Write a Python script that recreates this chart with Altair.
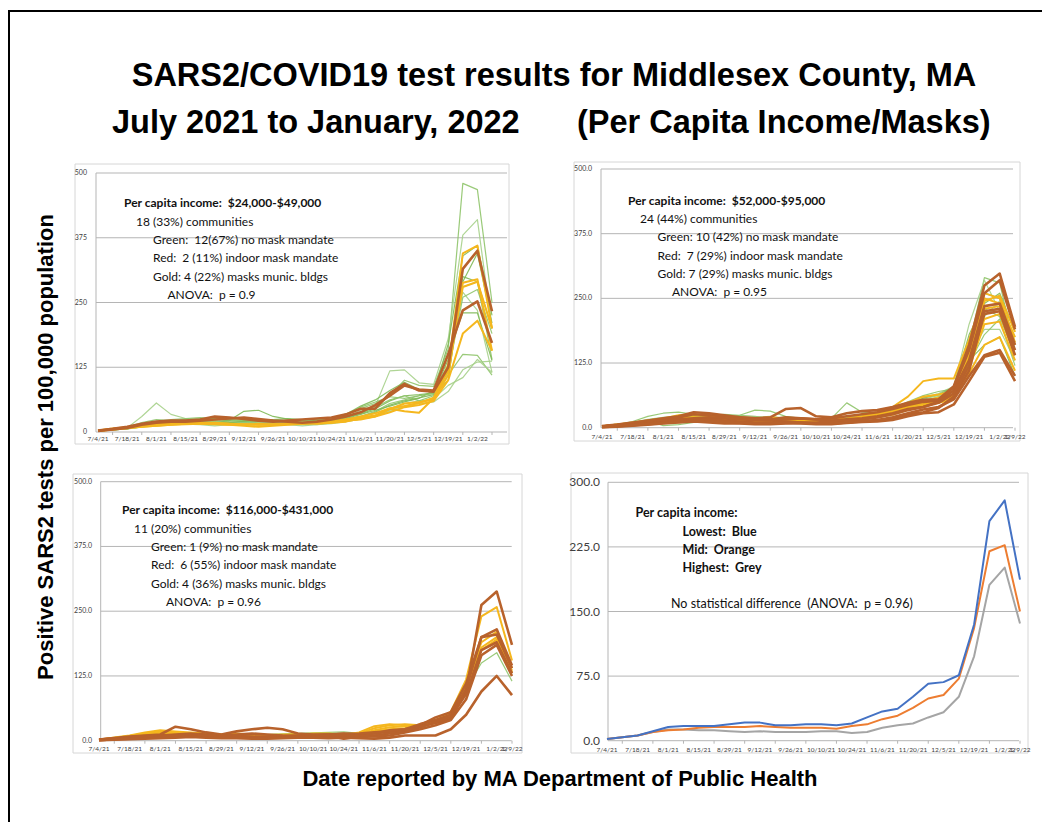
import altair as alt
import pandas as pd

# ---------------- data ----------------
dates = ["7/4/21", "7/11/21", "7/18/21", "7/25/21", "8/1/21", "8/8/21", "8/15/21", "8/22/21",
         "8/29/21", "9/5/21", "9/12/21", "9/19/21", "9/26/21", "10/3/21", "10/10/21", "10/17/21",
         "10/24/21", "10/31/21", "11/6/21", "11/13/21", "11/20/21", "11/27/21", "12/5/21",
         "12/12/21", "12/19/21", "12/26/21", "1/2/22", "1/9/22"]

# Panel 1: $24,000-$49,000
p1_green = [
    [2,5,9,18,24,22,24,26,25,24,22,24,20,22,24,22,26,35,45,55,70,100,90,88,160,480,468,250],
    [3,6,8,30,56,34,26,24,22,20,18,20,22,18,20,22,24,30,42,50,118,120,95,92,180,380,410,200],
    [2,4,7,14,18,20,22,20,18,22,40,42,30,25,22,20,20,28,35,45,60,70,72,75,140,290,345,210],
    [3,5,8,12,16,18,20,22,20,18,16,18,16,18,20,18,22,25,30,40,55,62,70,76,130,280,290,140],
    [2,5,8,14,20,22,18,16,14,16,18,20,22,20,18,16,18,22,28,32,45,55,60,62,120,270,235,115],
    [3,6,7,12,15,18,20,22,24,22,20,18,16,15,14,16,20,26,34,42,50,58,65,80,150,230,230,138],
    [2,4,6,10,14,16,18,20,18,16,14,16,14,16,18,20,22,28,36,48,62,70,60,70,110,150,148,110],
    [3,5,7,10,12,14,16,18,16,15,14,15,16,14,12,14,18,22,26,30,42,50,55,58,78,120,135,137],
    [2,4,6,12,16,18,20,18,16,18,20,22,24,26,24,22,20,24,30,38,52,60,66,72,100,300,290,200],
    [3,5,8,16,20,24,26,28,26,24,22,20,18,20,22,24,26,32,48,58,68,65,70,74,115,260,275,190],
    [2,4,6,10,14,16,15,14,12,14,16,18,20,18,16,14,16,20,25,30,40,48,58,64,90,105,140,115],
    [3,6,9,15,18,20,22,24,26,28,24,22,20,22,24,26,28,34,50,62,80,96,82,76,170,340,360,225],
]
p1_red = [
    [3,6,10,16,20,22,22,24,30,28,25,22,20,22,24,26,28,34,45,45,75,93,80,78,125,315,350,233],
    [2,5,8,14,18,20,20,22,24,26,28,25,22,20,18,20,24,30,38,52,70,90,82,80,150,235,252,172],
]
p1_gold = [
    [3,7,9,12,14,16,18,18,16,14,12,10,12,14,16,18,20,24,28,32,45,40,37,65,120,345,360,200],
    [2,5,8,10,12,14,16,16,15,14,14,16,14,16,18,16,18,20,26,30,44,55,58,62,110,288,295,157],
    [3,6,8,12,15,16,17,18,18,16,15,14,14,15,16,17,18,22,24,30,38,48,52,60,100,190,215,157],
    [2,5,7,10,12,14,15,16,17,16,15,14,15,16,17,18,20,24,30,36,46,50,56,66,130,280,290,200],
]

# Panel 2: $52,000-$95,000
p2_green = [
    [2,6,12,22,28,30,26,22,20,24,34,32,22,18,16,18,48,30,28,32,40,50,60,72,160,290,280,150],
    [3,7,10,16,20,22,20,18,16,18,20,18,16,15,14,16,20,24,28,34,45,58,66,80,200,285,225,160],
    [2,5,8,12,14,16,18,16,15,14,16,15,14,13,12,14,16,20,26,30,38,45,52,62,150,230,215,140],
    [2,6,9,14,4,6,10,14,18,20,16,14,12,10,11,12,14,18,22,28,36,48,58,70,170,260,250,165],
    [3,5,9,13,16,18,20,18,16,14,15,17,15,14,13,15,18,22,25,30,42,55,62,70,140,190,190,130],
    [2,4,7,11,14,16,18,20,22,20,18,16,14,12,12,14,16,20,24,26,35,44,50,60,130,160,175,100],
    [3,6,10,15,18,20,22,24,26,24,22,18,16,14,15,16,18,22,28,36,50,62,70,75,155,220,230,150],
    [2,5,8,12,16,18,16,14,16,18,20,22,18,16,14,12,14,18,22,28,40,52,58,66,145,215,245,175],
    [3,6,9,14,18,22,24,22,20,18,16,18,20,18,16,15,17,21,26,32,46,57,64,78,180,240,260,185],
    [2,4,6,10,13,15,17,18,17,16,15,14,13,12,12,13,15,19,24,29,38,46,54,64,125,180,210,120],
]
p2_red = [
    [3,6,10,14,18,22,30,28,24,20,18,20,36,38,22,20,28,32,34,40,48,54,55,80,160,275,298,195],
    [2,5,8,12,16,20,26,24,22,20,18,16,20,18,16,18,22,26,30,36,44,50,52,78,150,260,285,190],
    [2,4,6,10,14,16,18,20,18,16,15,14,16,18,16,14,16,18,22,28,36,40,50,72,130,235,240,160],
    [1,3,5,8,10,12,14,12,10,9,8,8,9,10,8,8,10,12,14,18,26,30,38,60,110,225,230,150],
    [2,4,6,8,10,12,14,16,14,12,10,10,12,10,10,12,14,16,20,26,34,40,48,66,120,220,225,140],
    [1,2,4,6,8,10,12,10,8,8,7,7,8,8,7,7,9,11,12,15,22,28,30,45,90,137,145,90],
    [2,4,5,7,9,11,13,12,11,10,9,9,10,9,8,8,10,13,15,20,28,35,40,55,100,140,150,100],
]
p2_gold = [
    [2,5,9,12,16,18,20,18,16,14,15,16,14,13,12,14,16,20,28,40,60,90,95,95,170,260,250,165],
    [3,6,10,14,18,24,26,22,18,16,18,20,18,16,15,16,18,22,30,36,48,60,64,70,150,250,240,175],
    [2,4,8,11,14,16,18,17,16,15,14,14,15,14,13,14,16,20,26,32,42,52,58,62,140,230,235,160],
    [2,5,7,10,12,14,15,16,15,14,13,13,14,13,12,13,15,18,22,27,36,45,52,58,120,210,220,140],
    [3,6,8,12,15,18,20,19,18,17,16,16,15,14,14,15,17,21,26,31,40,50,56,64,135,245,255,185],
    [1,3,6,9,12,14,16,15,14,13,12,12,13,12,11,12,14,17,20,25,34,42,48,55,105,160,175,110],
    [2,4,7,10,13,15,17,16,15,14,13,14,15,14,13,14,16,19,24,30,40,48,55,60,115,200,205,130],
]

# Panel 3: $116,000-$431,000
p3_green = [
    [2,6,10,14,16,14,14,13,12,12,11,12,13,14,15,16,17,14,14,16,18,24,35,44,100,150,170,115],
]
p3_red = [
    [2,5,8,10,12,27,22,16,12,18,22,25,22,14,12,12,14,12,14,20,22,28,34,42,95,262,288,185],
    [2,4,7,9,10,12,14,12,10,12,14,12,10,9,10,12,8,10,14,18,20,30,45,55,110,200,215,145],
    [1,3,5,7,9,10,11,10,9,8,7,8,9,10,11,12,13,14,16,18,22,32,40,50,100,200,205,140],
    [2,4,6,8,9,10,12,11,10,9,8,7,6,6,8,10,4,8,10,14,18,26,36,46,90,175,190,130],
    [1,3,4,6,8,9,10,9,8,7,6,6,6,7,8,9,10,9,8,10,16,22,30,40,80,165,185,125],
    [1,2,3,4,5,6,7,6,5,5,4,4,5,6,6,5,6,5,4,6,10,10,10,22,50,95,125,88],
]
p3_gold = [
    [2,6,10,16,20,18,16,14,12,14,12,10,10,12,14,14,12,14,24,30,32,30,36,56,118,240,258,155],
    [2,5,9,14,18,16,14,13,12,11,10,10,11,12,13,12,11,16,28,32,30,28,34,52,110,180,200,135],
    [1,4,7,12,16,14,12,12,11,10,9,9,10,11,12,12,10,12,20,26,28,30,38,50,104,175,195,132],
    [2,5,8,12,15,14,13,12,11,10,10,11,12,12,12,13,12,14,18,22,24,32,40,54,112,190,210,140],
]

# Panel 4: group means
p4_lowest = [2,4,6,11,16,17,17,17,19,21,21,18,18,19,19,18,20,27,34,37,51,66,68,76,135,255,279,187]
p4_mid = [2,4,6,10,12,13,15,16,16,16,17,16,15,15,15,14,17,19,25,29,38,49,53,72,131,220,227,150]
p4_highest = [2,4,6,10,13,13,12,12,11,10,11,10,10,10,11,11,9,10,15,18,20,27,33,51,98,181,201,136]

# y tick values
ticks_500 = [0, 125, 250, 375, 500]
ticks_300 = [0, 75, 150, 225, 300]

# texts
title_line1 = "SARS2/COVID19 test results for Middlesex County, MA"
title_line2a = "July 2021 to January, 2022"
title_line2b = "(Per Capita Income/Masks)"
y_title = "Positive SARS2 tests per 100,000 population"
x_title = "Date reported by MA Department of Public Health"

p1_notes = ["Per capita income:  $24,000-$49,000", "18 (33%) communities",
            "Green:  12(67%) no mask mandate", "Red:  2 (11%) indoor mask mandate",
            "Gold: 4 (22%) masks munic. bldgs", "ANOVA:  p = 0.9"]
p2_notes = ["Per capita income:  $52,000-$95,000", "24 (44%) communities",
            "Green: 10 (42%) no mask mandate", "Red:  7 (29%) indoor mask mandate",
            "Gold: 7 (29%) masks munic. bldgs", "ANOVA:  p = 0.95"]
p3_notes = ["Per capita income:  $116,000-$431,000", "11 (20%) communities",
            "Green: 1 (9%) no mask mandate", "Red:  6 (55%) indoor mask mandate",
            "Gold: 4 (36%) masks munic. bldgs", "ANOVA:  p = 0.96"]
p4_notes = ["Per capita income:", "Lowest:  Blue", "Mid:  Orange", "Highest:  Grey",
            "No statistical difference  (ANOVA:  p = 0.96)"]

# ---------------- styling / layout ----------------
GREENS = ["#8fc46a", "#a6d08a", "#7fb957"]
RED = "#b8622c"
GOLD = "#f5b71e"
GRID = "#b5b5b5"
FRAME = "#d6d6d6"
TXT_FONT = "Lato"
TITLE_FONT = "Liberation Sans"


def keep_spaces(s):
    return s.replace("  ", " \u00a0")


def long_df(series_list, prefix):
    rows = []
    for k, s in enumerate(series_list):
        for i, v in enumerate(s):
            rows.append({"idx": i, "date": dates[i], "value": v, "series": f"{prefix}{k}"})
    return pd.DataFrame(rows)


def panel(cfg, groups, notes):
    xs = alt.Scale(domain=[0, 27], range=list(cfg["xr"]), nice=False, zero=False)
    ys = alt.Scale(domain=[0, cfg["ymax"]], range=list(cfg["yr"]), nice=False)
    y0 = cfg["yr"][0]
    layers = []
    # panel frame
    fx0, fy0, fx1, fy1 = cfg["frame"]
    layers.append(alt.Chart(pd.DataFrame({"a": [0]})).mark_rect(
        fill="white", stroke=FRAME, strokeWidth=1).encode(
        x=alt.value(fx0), x2=alt.value(fx1), y=alt.value(fy0), y2=alt.value(fy1)))
    # gridlines
    tick_df = pd.DataFrame({"v": cfg["ticks"],
                            "lab": [cfg["fmt"].format(t) for t in cfg["ticks"]]})
    layers.append(alt.Chart(tick_df).mark_rule(color=GRID, strokeWidth=1).encode(
        y=alt.Y("v:Q", scale=ys, axis=None),
        x=alt.value(cfg["axis_x"]), x2=alt.value(cfg["grid_right"])))
    # y axis line
    layers.append(alt.Chart(pd.DataFrame({"a": [0]})).mark_rule(color=GRID, strokeWidth=1).encode(
        x=alt.value(cfg["axis_x"]), y=alt.value(cfg["yr"][1]), y2=alt.value(y0)))
    # y tick labels
    layers.append(alt.Chart(tick_df).mark_text(
        align="right", baseline="middle", font=TXT_FONT, fontSize=cfg["ylab_size"],
        color="#404040").encode(
        y=alt.Y("v:Q", scale=ys, axis=None), x=alt.value(cfg["ylab_right"]), text="lab:N"))
    # x minor ticks
    tk = pd.DataFrame({"idx": [i for i in range(len(dates)) if i % 2 == 1]})
    layers.append(alt.Chart(tk).mark_rule(color=GRID, strokeWidth=1).encode(
        x=alt.X("idx:Q", scale=xs, axis=None), y=alt.value(y0), y2=alt.value(y0 + 3)))
    # x tick labels
    lab_idx = [i for i in range(len(dates)) if i % 2 == 0]
    if cfg["show_last"]:
        lab_idx.append(len(dates) - 1)
    xl = pd.DataFrame({"idx": lab_idx, "lab": [dates[i] for i in lab_idx]})
    layers.append(alt.Chart(xl).mark_text(
        align="center", baseline="middle", font=TXT_FONT, fontSize=6.5, color="#404040").encode(
        x=alt.X("idx:Q", scale=xs, axis=None), y=alt.value(cfg["xlab_y"]), text="lab:N"))
    # data lines
    for name, series_list, colors, width, opacity in groups:
        df = long_df(series_list, name)
        for k, s in enumerate(df["series"].unique()):
            sub = df[df["series"] == s]
            layers.append(alt.Chart(sub).mark_line(
                color=colors[k % len(colors)], strokeWidth=width, opacity=opacity,
                strokeJoin="round").encode(
                x=alt.X("idx:Q", scale=xs, axis=None),
                y=alt.Y("value:Q", scale=ys, axis=None),
                tooltip=["date:N", "value:Q"]))
    # annotations
    for (tx, ty, bold, size), text in zip(cfg["notes_pos"], notes):
        layers.append(alt.Chart(pd.DataFrame({"t": [keep_spaces(text)]})).mark_text(
            align="left", baseline="middle", font=TXT_FONT, fontSize=size,
            fontWeight="bold" if bold else "normal", color="#111111").encode(
            x=alt.value(tx), y=alt.value(ty), text="t:N"))
    return alt.layer(*layers)


cfg1 = dict(xr=(98, 492), yr=(432, 173), ymax=500, ticks=ticks_500, fmt="{:.0f}",
            axis_x=96, grid_right=507, ylab_right=87, ylab_size=7, xlab_y=439,
            frame=(75, 164, 509, 444), show_last=False,
            notes_pos=[(124, 203, True, 12), (136, 221.5, False, 12), (153, 240, False, 12),
                       (153, 258, False, 12), (153, 276.5, False, 12), (167.5, 295, False, 12)])
cfg2 = dict(xr=(602, 1015), yr=(427.7, 169), ymax=500, ticks=ticks_500, fmt="{:.1f}",
            axis_x=601, grid_right=1013, ylab_right=592, ylab_size=7, xlab_y=436.7,
            frame=(574, 162, 1020, 441), show_last=True,
            notes_pos=[(628, 201, True, 12), (640, 219, False, 12), (657.5, 237, False, 12),
                       (657.5, 255.5, False, 12), (657.5, 274, False, 12), (672, 292, False, 12)])
cfg3 = dict(xr=(99, 512), yr=(740.7, 481.7), ymax=500, ticks=ticks_500, fmt="{:.1f}",
            axis_x=100.7, grid_right=511.7, ylab_right=92, ylab_size=7, xlab_y=749,
            frame=(73, 474, 522, 753), show_last=True,
            notes_pos=[(122, 510, True, 12), (134, 529, False, 12), (151, 547, False, 12),
                       (151, 565, False, 12), (151, 583.5, False, 12), (166, 602, False, 12)])
cfg4 = dict(xr=(607, 1020), yr=(740.7, 482.3), ymax=300, ticks=ticks_300, fmt="{:.1f}",
            axis_x=608, grid_right=1019, ylab_right=600, ylab_size=12, xlab_y=750,
            frame=(571, 473, 1028, 753), show_last=True,
            notes_pos=[(635.5, 513, True, 12.5), (682.5, 531.5, True, 12.5),
                       (682.5, 549.5, True, 12.5), (682.5, 568, True, 12.5),
                       (671, 604, False, 12.5)])

mask_groups = lambda g, r, y: [("g", g, GREENS, 1.2, 0.9), ("y", y, [GOLD], 2.0, 1.0),
                               ("r", r, [RED], 2.6, 1.0)]

pan1 = panel(cfg1, mask_groups(p1_green, p1_red, p1_gold), p1_notes)
pan2 = panel(cfg2, mask_groups(p2_green, p2_red, p2_gold), p2_notes)
pan3 = panel(cfg3, mask_groups(p3_green, p3_red, p3_gold), p3_notes)
pan4 = panel(cfg4, [("h", [p4_highest], ["#a5a5a5"], 2.0, 1.0),
                    ("m", [p4_mid], ["#ed7d31"], 2.0, 1.0),
                    ("l", [p4_lowest], ["#4472c4"], 2.0, 1.0)], p4_notes)

one = pd.DataFrame({"a": [0]})
outer = alt.Chart(one).mark_rect(fill="white", stroke="black", strokeWidth=2).encode(
    x=alt.value(9), x2=alt.value(1060), y=alt.value(11), y2=alt.value(840))


def big_text(text, x, y, size, align="center", angle=0):
    return alt.Chart(pd.DataFrame({"t": [text]})).mark_text(
        align=align, baseline="middle", font=TITLE_FONT, fontSize=size, fontWeight="bold",
        color="black", angle=angle).encode(x=alt.value(x), y=alt.value(y), text="t:N")


titles = [
    big_text(title_line1, 554, 76, 32.5),
    big_text(title_line2a, 112, 123, 32.5, align="left"),
    big_text(title_line2b, 577, 123, 32.5, align="left"),
    big_text(y_title, 46, 447, 22, angle=270),
    big_text(x_title, 560, 779, 22),
]

chart = alt.layer(outer, *titles, pan1, pan2, pan3, pan4).resolve_scale(
    x="independent", y="independent"
).properties(width=1042, height=822, padding=0, autosize="none", background="white"
).configure_view(strokeWidth=0)

chart.save("out.html", embed_options={"renderer": "svg", "actions": False})
